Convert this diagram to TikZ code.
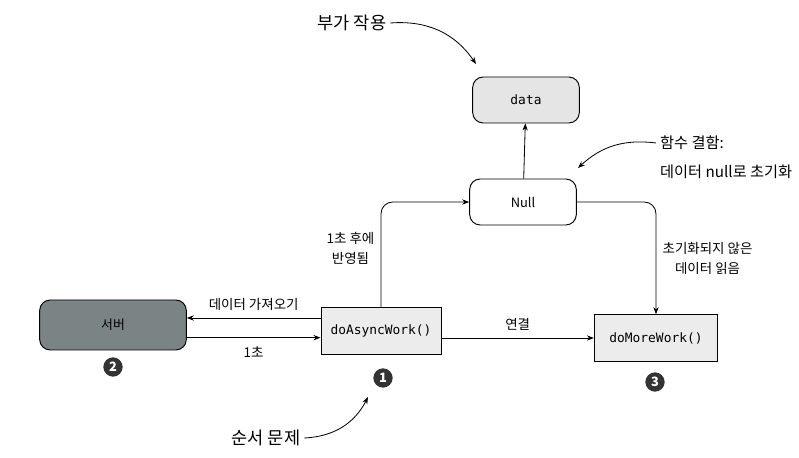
\documentclass[tikz,border=0pt]{standalone}
\usepackage{fontspec}
\setmainfont{Noto Sans CJK KR}
\setmonofont{DejaVu Sans Mono}
\usetikzlibrary{arrows.meta}
\definecolor{servergray}{RGB}{122,132,132}
\tikzset{
  rbox/.style={draw, line width=0.8pt, rounded corners=9pt, minimum width=3.2cm, minimum height=1.38cm, font=\fontsize{11}{13}\selectfont},
  sbox/.style={draw, line width=0.8pt, fill=gray!15, minimum width=3.6cm, minimum height=1.4cm, font=\ttfamily\fontsize{11}{13}\selectfont},
  num/.style={circle, fill=black!80, text=white, font=\bfseries\fontsize{11}{13}\selectfont, inner sep=0pt, minimum size=0.58cm},
  lbl/.style={font=\fontsize{11.5}{17}\selectfont, align=center},
  note/.style={font=\fontsize{15}{18}\selectfont},
  arr/.style={-{Stealth[length=6pt,width=4.5pt]}, line width=0.7pt}
}
\begin{document}
\begin{tikzpicture}[x=0.03cm,y=-0.03cm]
  \useasboundingbox (0,0) rectangle (799,458);
  % boxes
  \node[rbox, fill=gray!20, font=\ttfamily\fontsize{11}{13}\selectfont] (data) at (526,100) {data};
  \node[rbox, fill=white] (null) at (523,202) {Null};
  \node[rbox, fill=servergray, minimum width=4.4cm, minimum height=1.5cm] (server) at (113,325) {서버};
  \node[sbox] (async) at (381,331) {doAsyncWork()};
  \node[sbox, minimum width=3.7cm] (more) at (656,338) {doMoreWork()};
  % numbers
  \node[num] (n2) at (113,367) {2};
  \node[num] (n1) at (383,378) {1};
  \node[num] (n3) at (655,382) {3};
  % notes
  \node[note] (side) at (352,23) {부가 작용};
  \node[anchor=west, font=\fontsize{13}{16}\selectfont] (fn1) at (656,143) {함수 결함:};
  \node[anchor=west, font=\fontsize{13}{16}\selectfont] (fn2) at (656,172) {데이터 null로 초기화};
  \node[note] (order) at (266,438) {순서 문제};
  \coordinate (sidetip) at (476,64);
  \coordinate (fntip) at (578,168);
  \coordinate (ordertip) at (368,397);
  % connectors
  \begin{scope}[arr]
    \draw (null) to (data);
    \draw[rounded corners=10pt] (async.north) |- (null.west)
      node[lbl, pos=0.28, left=2pt] {1초 후에\\반영됨};
    \draw[rounded corners=10pt] (null.east) -| (more.north)
      node[lbl, pos=0.75, right=2pt] {초기화되지 않은\\데이터 읽음};
    \draw ([yshift=0.39cm]async.west) -- ([yshift=0.39cm]async.west -| server.east)
      node[lbl, midway, above=3pt] {데이터 가져오기};
    \draw ([yshift=-0.38cm]server.east) -- ([yshift=-0.38cm]server.east -| async.west)
      node[lbl, midway, below=4pt] {1초};
    \draw (async.east |- more.west) -- (more.west)
      node[lbl, midway, above=3pt] {연결};
    \draw (side.east) to[bend left=30] (sidetip);
    \draw (fn1.west) to[bend right=25] (fntip);
    \draw (order.east) to[bend right=30] (ordertip);
  \end{scope}
\end{tikzpicture}
\end{document}
